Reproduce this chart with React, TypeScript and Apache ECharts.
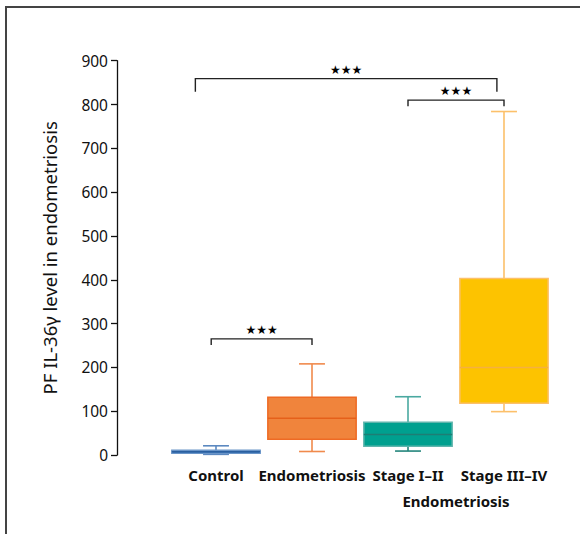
import React, { useEffect, useRef } from "react";
import * as echarts from "echarts";

const categories = ["Control", "Endometriosis", "Stage I–II", "Stage III–IV"];
// [min, Q1, median, Q3, max]
const boxValues = [
  [1.5, 4, 7.5, 11, 21],
  [8, 36, 84, 132, 208],
  [9, 20, 47, 75, 133],
  [99, 118, 200, 403, 784],
];
const fillColors = ["#2163ae", "#f0843c", "#00a08f", "#fdc300"];
const strokeColors = ["#6a95c8", "#ee6a24", "#5fb5ad", "#fcc06a"];
const whiskerColors = ["#5b88c0", "#f08a4c", "#4aa9a0", "#fcc06a"];
const lowerCapColors = ["#5b88c0", "#f08a4c", "#22857b", "#fcc06a"];
const medianColors = ["#2a5f9f", "#e5601a", "#1e7e74", "#f5b040"];
const yMin = 0;
const yMax = 900;
const yInterval = 100;
const groupLabel = "Endometriosis";
// [fromIndex, toIndex, yTop, yEnd, offsetFrom (band fraction), offsetTo]
const brackets = [
  [0, 3, 859, 829, -0.215, -0.074],
  [2, 3, 810, 796, 0.0, 0.0],
  [0, 1, 265, 251, -0.05, 0.0],
];
const bracketLabel = "★★★";

export default function App() {
  const ref = useRef<HTMLDivElement>(null);
  useEffect(() => {
    if (!ref.current) return;
    const chart = echarts.init(ref.current, null, { renderer: "svg" });
    const font = "'Noto Sans', 'Open Sans', sans-serif";
    const option: any = {
      animation: false,
      backgroundColor: "#ffffff",
      grid: { left: 168, right: 28, top: 60.7, bottom: 79 },
      xAxis: {
        type: "category",
        data: categories,
        axisLine: { show: false },
        axisTick: { show: false },
        axisLabel: {
          color: "#111",
          fontFamily: font,
          fontWeight: "bold",
          fontSize: 15,
          margin: 12,
          interval: 0,
        },
        splitLine: { show: false },
      },
      yAxis: {
        type: "value",
        min: yMin,
        max: yMax,
        interval: yInterval,
        offset: 51,
        name: "PF IL-36γ level in endometriosis",
        nameLocation: "middle",
        nameRotate: 90,
        nameGap: 58,
        nameTextStyle: { color: "#111", fontFamily: font, fontSize: 18.5 },
        axisLine: { show: true, lineStyle: { color: "#111", width: 1.3 } },
        axisTick: { show: true, length: 6, lineStyle: { color: "#111", width: 1.3 } },
        axisLabel: { color: "#111", fontFamily: font, fontSize: 15.5, margin: 9 },
        splitLine: { show: false },
      },
      series: [
        {
          type: "custom",
          encode: { x: 0, y: [1, 2, 3, 4, 5] },
          data: boxValues.map((v, i) => [i, ...v]),
          renderItem: (params: any, api: any) => {
            const i = api.value(0);
            const band = api.size([1, 0])[0];
            const bw = band * 0.92;
            const cw = band * 0.27;
            const pMin = api.coord([i, api.value(1)]);
            const pQ1 = api.coord([i, api.value(2)]);
            const pMed = api.coord([i, api.value(3)]);
            const pQ3 = api.coord([i, api.value(4)]);
            const pMax = api.coord([i, api.value(5)]);
            const cx = pMin[0];
            const ws = { stroke: whiskerColors[i], lineWidth: 1.6 };
            const ls = { stroke: lowerCapColors[i], lineWidth: 1.6 };
            return {
              type: "group",
              children: [
                { type: "line", shape: { x1: cx, y1: pMax[1], x2: cx, y2: pQ3[1] }, style: ws },
                { type: "line", shape: { x1: cx - cw / 2, y1: pMax[1], x2: cx + cw / 2, y2: pMax[1] }, style: ws },
                { type: "line", shape: { x1: cx, y1: pQ1[1], x2: cx, y2: pMin[1] }, style: ls },
                { type: "line", shape: { x1: cx - cw / 2, y1: pMin[1], x2: cx + cw / 2, y2: pMin[1] }, style: ls },
                {
                  type: "rect",
                  shape: { x: cx - bw / 2, y: pQ3[1], width: bw, height: pQ1[1] - pQ3[1] },
                  style: { fill: fillColors[i], stroke: strokeColors[i], lineWidth: 1.5 },
                },
                {
                  type: "line",
                  shape: { x1: cx - bw / 2, y1: pMed[1], x2: cx + bw / 2, y2: pMed[1] },
                  style: { stroke: medianColors[i], lineWidth: 1.5 },
                },
              ],
            };
          },
        },
        {
          type: "custom",
          encode: { x: [0, 1], y: [2, 3] },
          data: brackets,
          z: 10,
          renderItem: (params: any, api: any) => {
            const band = api.size([1, 0])[0];
            const a = api.coord([api.value(0), api.value(2)]);
            const b = api.coord([api.value(1), api.value(2)]);
            const e = api.coord([api.value(0), api.value(3)]);
            const x1 = a[0] + api.value(4) * band;
            const x2 = b[0] + api.value(5) * band;
            const yt = a[1];
            const ye = e[1];
            return {
              type: "group",
              children: [
                {
                  type: "polyline",
                  shape: { points: [[x1, ye], [x1, yt], [x2, yt], [x2, ye]] },
                  style: { stroke: "#222", lineWidth: 1.4, fill: null },
                },
                {
                  type: "text",
                  x: (x1 + x2) / 2,
                  y: yt - 3,
                  style: {
                    text: bracketLabel,
                    fill: "#000",
                    fontSize: 12,
                    fontFamily: "'DejaVu Sans', sans-serif",
                    align: "center",
                    verticalAlign: "bottom",
                  },
                },
              ],
            };
          },
        },
      ],
    };
    chart.setOption(option);
    const p2 = chart.convertToPixel({ xAxisIndex: 0 }, 2) as number;
    const p3 = chart.convertToPixel({ xAxisIndex: 0 }, 3) as number;
    const base = chart.convertToPixel({ yAxisIndex: 0 }, 0) as number;
    chart.setOption({
      graphic: [
        {
          type: "rect",
          shape: { x: 6, y: 7, width: 600, height: 560 },
          style: { fill: null, stroke: "#444", lineWidth: 2 },
          silent: true,
        },
        {
          type: "text",
          x: (p2 + p3) / 2,
          y: base + 46,
          style: {
            text: groupLabel,
            fill: "#111",
            fontFamily: font,
            fontWeight: "bold",
            fontSize: 15,
            align: "center",
            verticalAlign: "middle",
          },
        },
      ],
    });
    return () => chart.dispose();
  }, []);
  return (
    <div
      ref={ref}
      style={{ position: "fixed", left: 0, top: 0, width: 580, height: 534 }}
    />
  );
}
